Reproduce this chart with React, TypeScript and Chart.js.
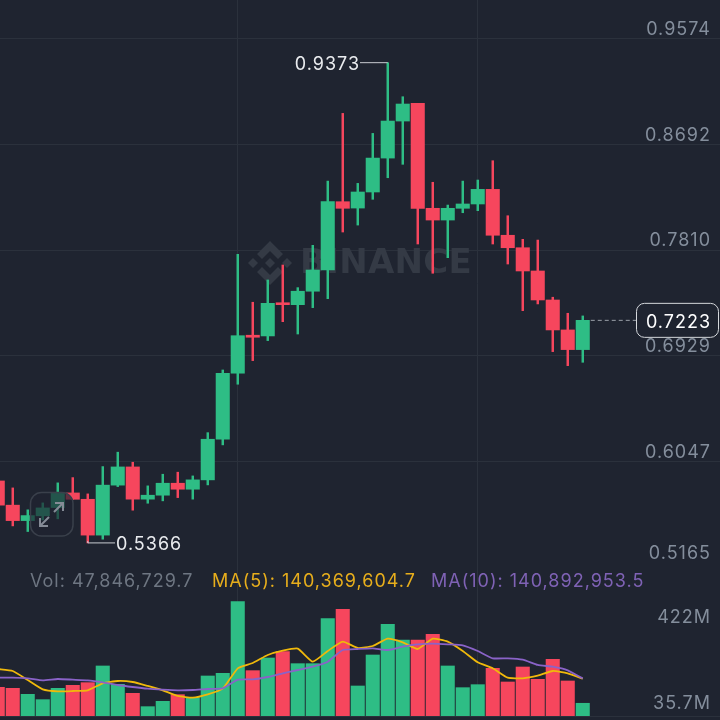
import React, { useEffect, useRef } from "react";
import { Chart, registerables } from "chart.js";

Chart.register(...registerables);

const opens = [0.5883,0.5681,0.5552,0.5592,0.5661,0.5783,0.5730,0.5431,0.5848,0.6000,0.5731,0.5764,0.5864,0.5814,0.5892,0.6231,0.6782,0.7099,0.7093,0.7370,0.7354,0.7466,0.7643,0.8213,0.8160,0.8294,0.8577,0.8886,0.9033,0.8158,0.8060,0.8158,0.8194,0.8316,0.7933,0.7829,0.7635,0.7393,0.7143,0.6979];
const closes = [0.5681,0.5552,0.5594,0.5658,0.5783,0.5730,0.5431,0.5848,0.6000,0.5731,0.5764,0.5864,0.5814,0.5892,0.6231,0.6782,0.7095,0.7082,0.7365,0.7354,0.7466,0.7643,0.8213,0.8158,0.8294,0.8577,0.8886,0.9028,0.8158,0.8060,0.8158,0.8194,0.8316,0.7933,0.7829,0.7635,0.7393,0.7143,0.6979,0.7223];
const highs = [0.5883,0.5825,0.5642,0.5700,0.5867,0.5911,0.5775,0.6003,0.6123,0.6039,0.5842,0.5939,0.5956,0.5925,0.6286,0.6809,0.7774,0.7374,0.7560,0.7685,0.7496,0.7849,0.8385,0.8950,0.8366,0.8783,0.9373,0.9089,0.9033,0.8375,0.8185,0.8385,0.8394,0.8555,0.8096,0.7899,0.7893,0.7416,0.7282,0.7260];
const lows = [0.5681,0.5508,0.5461,0.5558,0.5567,0.5730,0.5366,0.5397,0.5836,0.5639,0.5697,0.5717,0.5744,0.5731,0.5850,0.6184,0.6690,0.6887,0.7054,0.7212,0.7109,0.7329,0.7404,0.7960,0.8018,0.8233,0.8413,0.8525,0.7860,0.7616,0.7746,0.8121,0.8138,0.7860,0.7693,0.7304,0.7360,0.6962,0.6845,0.6873];

const volumes = [107.8,104,81.4,61.4,104,115.3,125.3,188,119,85.2,35.1,55.1,80.2,68.9,150.4,160.4,429.8,170.4,218,241.8,196.7,196.7,365.9,401,112.8,229.3,344.6,285.7,285.7,307,188,106.5,117.8,179.2,127.8,184.2,137.8,213,131.6,47.8];
const ma5 = [176.7,169.2,135.3,100.2,92.7,94,96.5,122.8,131.6,127.8,112.8,96.5,75.2,68.9,81.4,102.7,179.2,199.2,229.3,245.6,253.1,204.2,244.3,279.4,255.6,263.1,290.7,276.9,251.9,290.7,279.4,244.3,201.7,179.2,144.1,141.6,151.6,169.2,160.4,140.4];
const ma10 = [144.1,144.1,141.6,134.1,139.1,136.6,134.1,126.6,116.5,109,102.7,99,96.5,97.7,101.5,104,136.6,137.8,146.6,160.4,172.9,185.4,204.2,248.1,251.9,254.4,248.1,260.6,269.4,271.9,269.4,265.6,244.3,216.8,216.8,211.8,191.7,185.4,171.7,140.9];

const priceTicks = [0.9574, 0.8692, 0.781, 0.6929, 0.6047];
const priceBottomTick = [0.5165];
const verticalGridSlots = [16, 32];
const highLabel = "0.9373";
const lowLabel = "0.5366";
const lastLabel = "0.7223";
const volLabel = "Vol: 47,846,729.7";
const ma5Label = "MA(5): 140,369,604.7";
const ma10Label = "MA(10): 140,892,953.5";
const watermark = "BINANCE";

const BG = "#1F2430";
const GRID = "#2B313C";
const GREEN = "#2EBD85";
const RED = "#F6465D";
const AXIS = "#848E9C";
const FONT = '"Inter"';
const FONT_SIZE = 18;
const SPACING = "1px";

const xScale = (display = false) => ({
  type: "linear" as const,
  min: 0.15,
  max: 48.15,
  offset: false,
  afterBuildTicks: (s: any) => {
    s.ticks = verticalGridSlots.map((value) => ({ value }));
  },
  ticks: { display: false },
  grid: { color: GRID, lineWidth: 1, drawTicks: false, offset: false },
  border: { display, color: GRID },
});

const fixedAxis = (
  values: number[],
  labels: (v: number) => string,
  min: number,
  max: number,
  labelOffset: number,
  color: string,
  showGrid: boolean
) => ({
  type: "linear" as const,
  position: "right" as const,
  min,
  max,
  afterBuildTicks: (s: any) => {
    s.ticks = values.map((value) => ({ value }));
  },
  afterFit: (s: any) => {
    s.paddingTop = 0;
    s.paddingBottom = 0;
    s.width = 0;
  },
  ticks: {
    mirror: true,
    padding: -9,
    labelOffset,
    color,
    autoSkip: false,
    maxRotation: 0,
    font: { family: FONT, size: FONT_SIZE },
    callback: (v: any) => labels(Number(v)),
  },
  grid: { display: showGrid, color: GRID, lineWidth: 1, drawTicks: false },
  border: { display: false },
});

const spacingPlugin = {
  id: "textSpacing",
  beforeDraw(chart: any) {
    chart.ctx.letterSpacing = SPACING;
  },
};

const watermarkPlugin = {
  id: "watermark",
  beforeDatasetsDraw(chart: any) {
    const c = chart.ctx;
    c.save();
    c.fillStyle = "#343A45";
    const cx = 270;
    const cy = 263;
    const poly = (pts: number[][]) => {
      c.beginPath();
      pts.forEach(([a, b], i) => (i ? c.lineTo(cx + a, cy + b) : c.moveTo(cx + a, cy + b)));
      c.closePath();
      c.fill();
    };
    poly([[0, -22], [13, -9], [8, -4], [0, -12], [-8, -4], [-13, -9]]);
    poly([[0, 22], [13, 9], [8, 4], [0, 12], [-8, 4], [-13, 9]]);
    poly([[-22, 0], [-17, -5], [-12, 0], [-17, 5]]);
    poly([[22, 0], [17, -5], [12, 0], [17, 5]]);
    poly([[0, -5], [5, 0], [0, 5], [-5, 0]]);
    c.font = `bold 34px "DejaVu Sans"`;
    c.letterSpacing = "0.3px";
    c.textAlign = "left";
    c.textBaseline = "middle";
    c.fillText(watermark, 300, 264);
    c.restore();
  },
};

const annotationPlugin = {
  id: "annotations",
  afterDatasetsDraw(chart: any) {
    const c = chart.ctx;
    const x = chart.scales.x;
    const y = chart.scales.y;
    const hiIdx = highs.indexOf(Math.max(...highs));
    const loIdx = lows.indexOf(Math.min(...lows));
    const last = closes.length - 1;
    c.save();
    c.font = `${FONT_SIZE}px ${FONT}`;
    c.textBaseline = "middle";

    const hx = x.getPixelForValue(hiIdx);
    const hy = y.getPixelForValue(highs[hiIdx]);
    c.strokeStyle = "#C9CCD1";
    c.lineWidth = 1;
    c.beginPath();
    c.moveTo(hx, hy);
    c.lineTo(360, hy);
    c.stroke();
    c.fillStyle = "#EAECEF";
    c.textAlign = "right";
    c.fillText(highLabel, 360, hy + 2);

    const lx = x.getPixelForValue(loIdx);
    const ly = y.getPixelForValue(lows[loIdx]);
    c.beginPath();
    c.moveTo(lx, ly - 2);
    c.lineTo(lx, ly);
    c.lineTo(115, ly);
    c.stroke();
    c.textAlign = "left";
    c.fillText(lowLabel, 116, ly + 1.5);

    const px = x.getPixelForValue(last);
    const py = y.getPixelForValue(closes[last]);
    c.setLineDash([4, 3]);
    c.strokeStyle = "#9AA0A8";
    c.beginPath();
    c.moveTo(px + 8, py);
    c.lineTo(636, py);
    c.stroke();
    c.setLineDash([]);
    c.fillStyle = BG;
    c.strokeStyle = "#D5D8DC";
    c.beginPath();
    c.roundRect(636.5, py - 17, 82, 34, 8);
    c.fill();
    c.stroke();
    c.fillStyle = "#FFFFFF";
    c.textAlign = "right";
    c.fillText(lastLabel, 711, py + 2);

    c.fillStyle = "rgba(31,36,48,0.68)";
    c.strokeStyle = "#3A404B";
    c.lineWidth = 1.5;
    c.beginPath();
    c.roundRect(30.5, 492.5, 42.5, 43.5, 11);
    c.fill();
    c.stroke();
    c.strokeStyle = "#858B96";
    c.lineWidth = 2;
    const arrow = (x1: number, y1: number, x2: number, y2: number, sx: number, sy: number) => {
      c.beginPath();
      c.moveTo(x1, y1);
      c.lineTo(x2, y2);
      c.moveTo(x2 + sx * 8, y2);
      c.lineTo(x2, y2);
      c.lineTo(x2, y2 + sy * 8);
      c.stroke();
    };
    arrow(54, 512, 63, 503, -1, 1);
    arrow(49, 517, 40, 526, 1, -1);
    c.restore();
  },
};

const legendPlugin = {
  id: "volumeLegend",
  afterDraw(chart: any) {
    const c = chart.ctx;
    c.save();
    c.font = `${FONT_SIZE}px ${FONT}`;
    c.textBaseline = "middle";
    c.textAlign = "left";
    c.fillStyle = "#6E7682";
    c.fillText(volLabel, 30, 15);
    c.fillStyle = "#E7AE1C";
    c.fillText(ma5Label, 212, 15);
    c.fillStyle = "#7F62B5";
    c.fillText(ma10Label, 431, 15);
    c.restore();
  },
};

export default function App() {
  const priceRef = useRef<HTMLCanvasElement>(null);
  const volumeRef = useRef<HTMLCanvasElement>(null);

  useEffect(() => {
    document.body.style.margin = "0";
    document.body.style.background = BG;
    const color = (i: number) => (closes[i] >= opens[i] ? GREEN : RED);

    const price = new Chart(priceRef.current!, {
      type: "bar",
      data: {
        datasets: [
          {
            label: "Wick",
            data: highs.map((h, i) => ({ x: i, y: [lows[i], h] })) as any,
            backgroundColor: highs.map((_, i) => color(i)),
            barThickness: 1.8,
            grouped: false,
            order: 2,
          } as any,
          {
            label: "Body",
            data: opens.map((o, i) => ({ x: i, y: [o, closes[i]] })) as any,
            backgroundColor: opens.map((_, i) => color(i)),
            barThickness: 13.4,
            minBarLength: 1.5,
            grouped: false,
            order: 1,
          } as any,
        ],
      },
      options: {
        animation: false,
        responsive: false,
        layout: { padding: 0 },
        plugins: { legend: { display: false }, tooltip: { enabled: false } },
        scales: {
          x: xScale() as any,
          y: fixedAxis(priceTicks, (v) => v.toFixed(4), 0.5165, 0.9896, -9, AXIS, true) as any,
          yBottom: fixedAxis(priceBottomTick, (v) => v.toFixed(4), 0.5165, 0.9896, -13.5, AXIS, true) as any,
        },
      },
      plugins: [spacingPlugin, watermarkPlugin, annotationPlugin],
    });

    const volume = new Chart(volumeRef.current!, {
      type: "bar",
      data: {
        datasets: [
          {
            type: "line",
            label: "MA(5)",
            data: ma5.map((y, x) => ({ x, y })),
            borderColor: "#F0B90B",
            borderWidth: 1.8,
            pointRadius: 0,
            tension: 0.15,
            order: 1,
          } as any,
          {
            type: "line",
            label: "MA(10)",
            data: ma10.map((y, x) => ({ x, y })),
            borderColor: "#8A63C8",
            borderWidth: 1.8,
            pointRadius: 0,
            tension: 0.15,
            order: 0,
          } as any,
          {
            type: "bar",
            label: "Vol",
            data: volumes.map((y, x) => ({ x, y })),
            backgroundColor: volumes.map((_, i) => color(i)),
            barThickness: 13.4,
            grouped: false,
            order: 2,
          } as any,
        ],
      },
      options: {
        animation: false,
        responsive: false,
        layout: { padding: { bottom: 4 } },
        plugins: { legend: { display: false }, tooltip: { enabled: false } },
        scales: {
          x: xScale(true) as any,
          y: fixedAxis([422], () => "422M", 0, 560, 13.5, AXIS, false) as any,
          yLow: fixedAxis([35.7], () => "35.7M", 0, 560, -2.5, AXIS, false) as any,
        },
      },
      plugins: [spacingPlugin, legendPlugin],
    });

    return () => {
      price.destroy();
      volume.destroy();
    };
  }, []);

  return (
    <div style={{ position: "fixed", left: 0, top: 0, width: 720, height: 720, background: BG, overflow: "hidden" }}>
      <canvas ref={priceRef} width={720} height={567} style={{ position: "absolute", left: 0, top: 0, display: "block" }} />
      <canvas ref={volumeRef} width={720} height={153} style={{ position: "absolute", left: 0, top: 567, display: "block" }} />
    </div>
  );
}
